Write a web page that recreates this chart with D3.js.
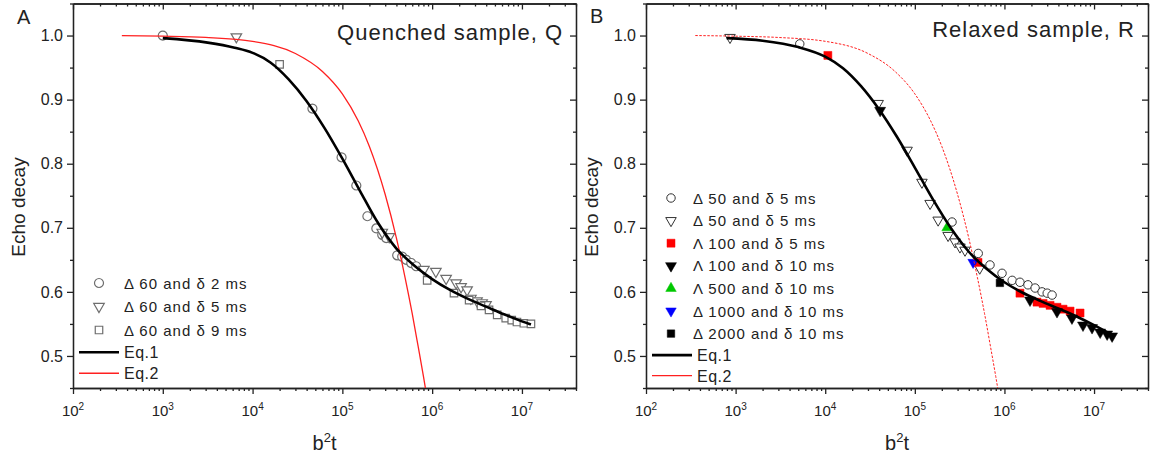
<!DOCTYPE html>
<html>
<head>
<meta charset="utf-8">
<script src="https://cdn.jsdelivr.net/npm/d3@7"></script>
<style>
  body { margin: 0; background: #fff; }
  svg text { font-family: "Liberation Sans", Arial, sans-serif; fill: #222; }
</style>
</head>
<body>
<div id="chart"></div>
<script>
// axis ticks
const xMajorExp = [2, 3, 4, 5, 6, 7];
const yMajor = [0.5, 0.6, 0.7, 0.8, 0.9, 1.0];
const yMinor = [0.45, 0.55, 0.65, 0.75, 0.85, 0.95, 1.05];

// Panel A, quenched sample: [b2t, echo decay]
const q60d2 = [[1000, 1.0], [4.64e4, 0.886], [9.8e4, 0.810], [1.43e5, 0.766], [1.9e5, 0.718], [2.39e5, 0.699],
  [2.78e5, 0.689], [3.08e5, 0.684], [4.08e5, 0.657], [4.64e5, 0.655], [5.14e5, 0.650], [5.85e5, 0.645], [6.64e5, 0.640]];
const q60d5 = [[6.6e3, 0.998], [2.78e5, 0.693], [3.33e5, 0.686], [8.1e5, 0.635], [1.1e6, 0.632], [1.43e6, 0.621],
  [1.85e6, 0.614], [2.1e6, 0.608], [2.45e6, 0.603], [2.7e6, 0.590], [3.16e6, 0.586], [3.6e6, 0.583], [3.98e6, 0.580]];
const q60d9 = [[2.0e4, 0.955], [8.8e5, 0.618], [1.75e6, 0.598], [2.58e6, 0.587], [3.5e6, 0.578], [4.3e6, 0.572],
  [5.3e6, 0.564], [6.6e6, 0.559], [7.7e6, 0.556], [8.8e6, 0.553], [1.05e7, 0.551], [1.26e7, 0.550]];
const qEq1 = [[1e3, 0.996], [3.16e3, 0.989], [6.31e3, 0.981], [1e4, 0.973], [1.58e4, 0.958], [2.51e4, 0.932],
  [3.98e4, 0.898], [6.31e4, 0.856], [1e5, 0.808], [1.58e5, 0.757], [2.51e5, 0.707], [3.98e5, 0.668],
  [6.31e5, 0.641], [1e6, 0.620], [1.58e6, 0.603], [2.51e6, 0.589], [3.98e6, 0.577], [6.31e6, 0.565],
  [1e7, 0.554], [1.26e7, 0.549]];
const qEq2 = [[350, 1.0], [1e3, 0.999], [3e3, 0.997], [1e4, 0.991], [3e4, 0.972], [6e4, 0.944], [1e5, 0.909],
  [1.5e5, 0.867], [2e5, 0.827], [3e5, 0.752], [4e5, 0.684], [5e5, 0.622], [6e5, 0.566], [7e5, 0.514],
  [8e5, 0.468], [8.5e5, 0.446]];
const qLegend = ["Δ 60 and δ 2 ms", "Δ 60 and δ 5 ms", "Δ 60 and δ 9 ms", "Eq.1", "Eq.2"];

// Panel B, relaxed sample
const r50d5a = [[5.2e3, 0.987], [2.6e5, 0.709], [5.1e5, 0.660], [6.9e5, 0.642], [9.4e5, 0.629], [1.22e6, 0.618],
  [1.49e6, 0.615], [1.83e6, 0.611], [2.2e6, 0.606], [2.63e6, 0.600], [3.0e6, 0.598], [3.4e6, 0.595]];
const r50d5b = [[866, 0.997], [3.9e4, 0.894], [8.2e4, 0.821], [1.2e5, 0.771], [1.48e5, 0.738], [1.82e5, 0.712],
  [2.35e5, 0.688], [2.81e5, 0.678], [3.19e5, 0.670], [3.63e5, 0.665], [5.3e5, 0.637]];
const r100d5 = [[1.07e4, 0.969], [5.07e5, 0.646], [1.49e6, 0.598], [2.31e6, 0.584], [2.7e6, 0.582], [3.23e6, 0.579],
  [3.86e6, 0.576], [4.51e6, 0.573], [5.4e6, 0.570], [6.98e6, 0.567]];
const r100d10 = [[4.1e4, 0.883], [1.93e6, 0.587], [3.86e6, 0.569], [5.67e6, 0.559], [7.53e6, 0.548], [9.5e6, 0.544],
  [1.17e7, 0.537], [1.4e7, 0.534], [1.59e7, 0.531]];
const r500d10 = [[2.29e5, 0.700]];
const r1000d10 = [[4.47e5, 0.646]];
const r2000d10 = [[8.9e5, 0.614]];
const rEq1 = [[794, 0.996], [2e3, 0.992], [5e3, 0.982], [1e4, 0.967], [1.58e4, 0.949], [2.51e4, 0.921],
  [3.98e4, 0.885], [6.31e4, 0.842], [1e5, 0.794], [1.58e5, 0.745], [2.51e5, 0.700], [3.98e5, 0.663],
  [6.31e5, 0.636], [1e6, 0.615], [1.58e6, 0.599], [2.51e6, 0.586], [3.98e6, 0.574], [6.31e6, 0.562],
  [1e7, 0.548], [1.58e7, 0.533]];
const rEq2 = [[355, 1.0], [1e3, 0.999], [3e3, 0.997], [1e4, 0.991], [3e4, 0.972], [6e4, 0.944], [1e5, 0.909],
  [1.5e5, 0.867], [2e5, 0.827], [3e5, 0.752], [4e5, 0.684], [5e5, 0.622], [6e5, 0.566], [7e5, 0.514],
  [8e5, 0.468], [8.5e5, 0.446]];
const rLegend = ["Δ 50 and δ 5 ms", "Δ 50 and δ 5 ms", "Λ 100 and δ 5 ms", "Λ 100 and δ 10 ms",
  "Λ 500 and δ 10 ms", "Δ 1000 and δ 10 ms", "Δ 2000 and δ 10 ms", "Eq.1", "Eq.2"];

const svg = d3.select("#chart").append("svg")
  .attr("width", 1150)
  .attr("height", 459);

const symbolPath = (type, size) => d3.symbol().type(type).size(size)();

function drawPanel(p) {
  const x = d3.scaleLog().domain([1e2, 4e7]).range([p.left, p.right]);
  const y = d3.scaleLinear().domain([0.45, 1.05]).range([p.bottom, p.top]);
  const g = svg.append("g");

  const xMinor = x.ticks().filter(v => !Number.isInteger(Math.log10(v)));
  const xMajor = xMajorExp.map(e => Math.pow(10, e));

  const styleAxis = sel => {
    sel.selectAll("path, line").attr("stroke", "#222").attr("stroke-width", 1.3);
  };

  // bottom + top
  g.append("g").attr("transform", `translate(0,${p.bottom})`)
    .call(d3.axisBottom(x).tickValues(xMinor).tickSizeInner(3).tickSizeOuter(0).tickFormat(""))
    .call(styleAxis);
  g.append("g").attr("transform", `translate(0,${p.bottom})`)
    .call(d3.axisBottom(x).tickValues(xMajor).tickSizeInner(6).tickSizeOuter(0).tickFormat(""))
    .call(styleAxis);
  g.append("g").attr("transform", `translate(0,${p.top})`)
    .call(d3.axisTop(x).tickValues(xMinor).tickSizeInner(-3).tickSizeOuter(0).tickFormat(""))
    .call(styleAxis);
  g.append("g").attr("transform", `translate(0,${p.top})`)
    .call(d3.axisTop(x).tickValues(xMajor).tickSizeInner(-6).tickSizeOuter(0).tickFormat(""))
    .call(styleAxis);

  g.selectAll(".xlab")
    .data(xMajorExp)
    .join("text")
    .attr("x", e => x(Math.pow(10, e)))
    .attr("y", p.bottom + 28)
    .attr("text-anchor", "middle")
    .attr("font-size", "15px")
    .each(function(e) {
      const t = d3.select(this);
      t.append("tspan").text("10");
      t.append("tspan").attr("dy", -6).attr("font-size", "10px").text(e);
    });

  // left + right
  g.append("g").attr("transform", `translate(${p.left},0)`)
    .call(d3.axisLeft(y).tickValues(yMinor).tickSizeInner(3).tickSizeOuter(0).tickFormat(""))
    .call(styleAxis);
  g.append("g").attr("transform", `translate(${p.left},0)`)
    .call(d3.axisLeft(y).tickValues(yMajor).tickSizeInner(6).tickSizeOuter(0).tickPadding(4)
      .tickFormat(d3.format(".1f")))
    .call(styleAxis)
    .call(a => a.selectAll("text").attr("font-size", "16px").attr("font-family", null).attr("fill", "#222"));
  g.append("g").attr("transform", `translate(${p.right},0)`)
    .call(d3.axisRight(y).tickValues(yMinor).tickSizeInner(-3).tickSizeOuter(0).tickFormat(""))
    .call(styleAxis);
  g.append("g").attr("transform", `translate(${p.right},0)`)
    .call(d3.axisRight(y).tickValues(yMajor).tickSizeInner(-6).tickSizeOuter(0).tickFormat(""))
    .call(styleAxis);

  // axis titles
  const xt = g.append("text")
    .attr("x", (p.left + p.right) / 2)
    .attr("y", 450)
    .attr("text-anchor", "middle")
    .attr("font-size", "20px");
  xt.append("tspan").text("b");
  xt.append("tspan").attr("dy", -8).attr("font-size", "13px").text("2");
  xt.append("tspan").attr("dy", 8).text("t");

  g.append("text")
    .attr("transform", `translate(${p.left - 48},207) rotate(-90)`)
    .attr("text-anchor", "middle")
    .attr("font-size", "19px")
    .text("Echo decay");

  g.append("text")
    .attr("x", p.left - 56)
    .attr("y", p.letterY)
    .attr("font-size", "20px")
    .text(p.letter);

  g.append("text")
    .attr("x", p.right - 13)
    .attr("y", p.titleY)
    .attr("text-anchor", "end")
    .attr("font-size", "22px")
    .attr("letter-spacing", "1px")
    .text(p.title);

  // clip
  const clipId = "clip" + p.letter;
  svg.append("clipPath").attr("id", clipId)
    .append("rect")
    .attr("x", p.left).attr("y", p.top)
    .attr("width", p.right - p.left).attr("height", p.bottom - p.top);

  // markers
  p.series.forEach(s => {
    g.selectAll(null)
      .data(s.data)
      .join("path")
      .attr("d", symbolPath(s.type, s.size))
      .attr("transform", d => `translate(${x(d[0])},${y(d[1])}) rotate(${s.rot || 0})`)
      .attr("fill", s.fill)
      .attr("stroke", s.stroke)
      .attr("stroke-width", s.sw);
  });

  // fitted curves
  const line = d3.line().x(d => x(d[0])).y(d => y(d[1])).curve(d3.curveMonotoneX);
  g.append("path")
    .datum(p.eq2)
    .attr("clip-path", `url(#${clipId})`)
    .attr("d", line)
    .attr("fill", "none")
    .attr("stroke", "#ff2020")
    .attr("stroke-width", p.eq2Width)
    .attr("stroke-dasharray", p.eq2Dash);
  g.append("path")
    .datum(p.eq1)
    .attr("d", line)
    .attr("fill", "none")
    .attr("stroke", "#000")
    .attr("stroke-width", 2.6);

  // legend
  const lg = g.append("g");
  p.series.forEach((s, i) => {
    const cy = p.legY + i * p.legStep;
    lg.append("path")
      .attr("d", symbolPath(s.type, s.size))
      .attr("transform", `translate(${p.legSymX},${cy}) rotate(${s.rot || 0})`)
      .attr("fill", s.fill)
      .attr("stroke", s.stroke)
      .attr("stroke-width", s.sw);
    lg.append("text")
      .attr("x", p.legTextX)
      .attr("y", cy + 5.5)
      .attr("font-size", "15px")
      .attr("letter-spacing", "1px")
      .text(p.legend[i]);
  });
  const n = p.series.length;
  [["#000", 2.6], ["#ff2020", 1.3]].forEach((c, k) => {
    const cy = p.legY + n * p.legStep + k * p.lineStep - (p.legStep - p.lineStep) * 0.5;
    lg.append("line")
      .attr("x1", p.left + 6).attr("x2", p.left + 46)
      .attr("y1", cy).attr("y2", cy)
      .attr("stroke", c[0]).attr("stroke-width", c[1]);
    lg.append("text")
      .attr("x", p.left + 51)
      .attr("y", cy + 6)
      .attr("font-size", "16px")
      .attr("letter-spacing", "0.5px")
      .text(p.legend[n + k]);
  });
}

const gray = "#6e6e6e";
drawPanel({
  letter: "A", letterY: 24, left: 73, right: 576, top: 3.5, bottom: 388,
  title: "Quenched sample, Q", titleY: 40,
  eq1: qEq1, eq2: qEq2, eq2Dash: null, eq2Width: 1.3,
  legend: qLegend, legY: 283, legStep: 23.5, lineStep: 21, legSymX: 99, legTextX: 124,
  series: [
    { data: q60d2, type: d3.symbolCircle, size: 64, fill: "#fff", stroke: gray, sw: 1.2 },
    { data: q60d5, type: d3.symbolTriangle, size: 48, rot: 180, fill: "#fff", stroke: gray, sw: 1.2 },
    { data: q60d9, type: d3.symbolSquare, size: 56, fill: "#fff", stroke: gray, sw: 1.2 }
  ]
});

drawPanel({
  letter: "B", letterY: 23, left: 646, right: 1148, top: 3.5, bottom: 388,
  title: "Relaxed sample, R", titleY: 37,
  eq1: rEq1, eq2: rEq2, eq2Dash: "2.5,1.5", eq2Width: 1,
  legend: rLegend, legY: 198, legStep: 22.6, lineStep: 20.5, legSymX: 671, legTextX: 693,
  series: [
    { data: r50d5a, type: d3.symbolCircle, size: 56, fill: "#fff", stroke: "#333", sw: 1 },
    { data: r50d5b, type: d3.symbolTriangle, size: 48, rot: 180, fill: "#fff", stroke: "#333", sw: 1 },
    { data: r100d5, type: d3.symbolSquare, size: 64, fill: "#ff0000", stroke: "#ff0000", sw: 0.5 },
    { data: r100d10, type: d3.symbolTriangle, size: 52, rot: 180, fill: "#000", stroke: "#000", sw: 0.5 },
    { data: r500d10, type: d3.symbolTriangle, size: 48, fill: "#00c800", stroke: "#00c800", sw: 0.5 },
    { data: r1000d10, type: d3.symbolTriangle, size: 48, rot: 180, fill: "#0000ff", stroke: "#0000ff", sw: 0.5 },
    { data: r2000d10, type: d3.symbolSquare, size: 56, fill: "#000", stroke: "#000", sw: 0.5 }
  ]
});
</script>
</body>
</html>
